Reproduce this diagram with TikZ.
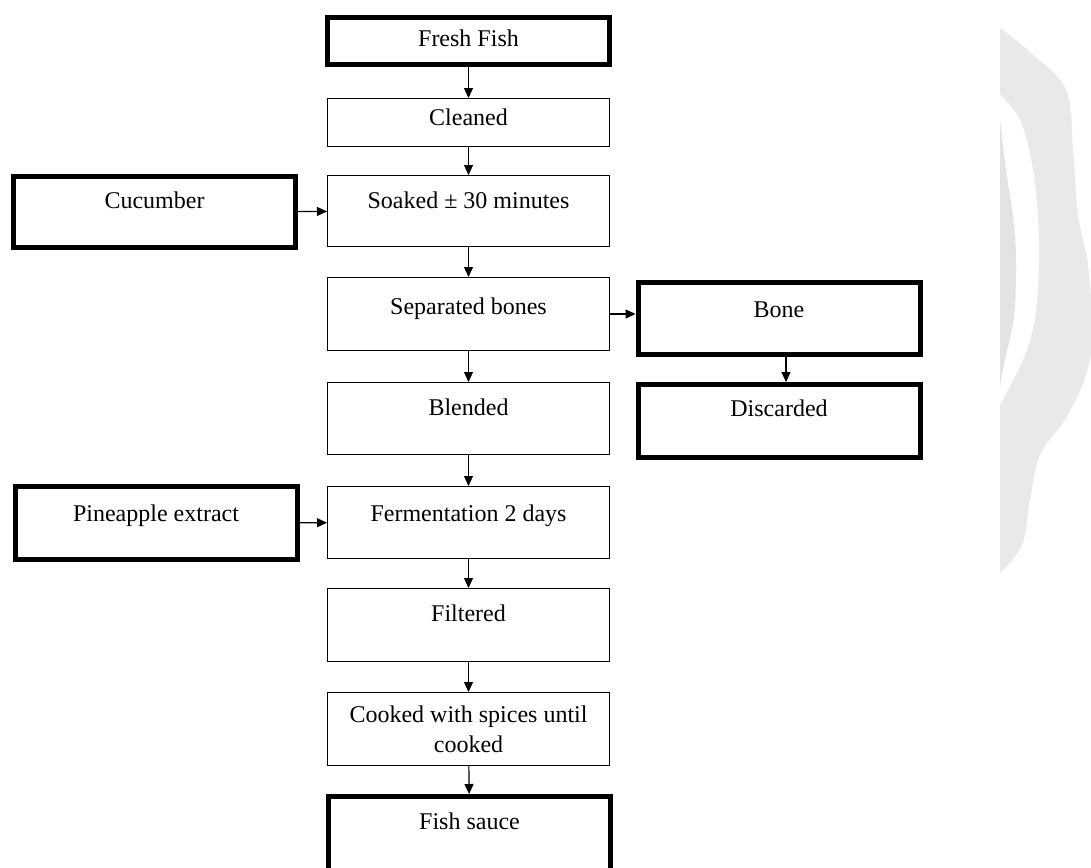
\documentclass[tikz,border=0pt]{standalone}
\usepackage{fontspec}
\setmainfont{Liberation Serif}
\usetikzlibrary{arrows.meta}

\begin{document}
\begin{tikzpicture}[-{Triangle[length=10pt, width=9pt]}, x=1pt, y=-1pt, line width=1.2pt,
            font=\fontsize{24}{30}\selectfont,
            proc/.style ={draw, black, line width=1pt, minimum width=282pt, inner ysep=0pt,
            anchor=north, align=center},
            ends/.style ={proc, line width=5pt},
            wmark/.style ={gray!17}]

            \useasboundingbox (0, 0) rectangle (1091, 867);

            %marca de agua a la derecha
            \fill[wmark] plot[smooth, tension=0.6] coordinates {(1000, 28) (1030, 52) (1066, 90) (1073, 150)
                (1078, 215) (1088, 265) (1092, 333) (1086, 375) (1066, 418) (1040, 455) (1030, 500)
                (1022, 545) (1000, 573)} -- cycle;
            \fill[white] plot[smooth, tension=0.6] coordinates {(1000, 95) (1020, 120) (1033, 170) (1039, 240)
                (1036, 310) (1025, 355) (1000, 405)} -- cycle;
            \fill[gray!22] plot[smooth, tension=0.6] coordinates {(1000, 120) (1006, 170) (1014, 225)
                (1016, 267) (1014, 317) (1006, 355) (1000, 385)} -- cycle;

            %\node [estilo] (nombre) at (posicion) {};
            \node[ends, text height=28.5pt, text depth=18.5pt] (fresh) at (468.5, 15) {Fresh Fish};
            \node[proc, text height=26.5pt, text depth=21.5pt] (clean) at (468.5, 98) {Cleaned};
            \node[proc, text height=32.5pt, text depth=38.5pt] (soak) at (468.5, 175) {Soaked ± 30 minutes};
            \node[proc, text height=36.5pt, text depth=36.5pt] (separ) at (468.5, 277) {Separated bones};
            \node[proc, text height=32.5pt, text depth=39.5pt] (blend) at (468.5, 382) {Blended};
            \node[proc, text height=34.5pt, text depth=37.5pt] (ferment) at (468.5, 486) {Fermentation 2 days};
            \node[proc, text height=32.5pt, text depth=40.5pt] (filter) at (468.5, 588) {Filtered};
            \node[proc, minimum height=73pt] (cook) at (468.5, 692) {Cooked with spices until\\cooked};
            \node[ends, text height=32.5pt, text depth=47.5pt] (sauce) at (469.5, 794) {Fish sauce};

            \node[ends, text height=31.5pt, text depth=39.5pt] (cucumber) at (154.5, 174) {Cucumber};
            \node[ends, text height=34.5pt, text depth=38.5pt] (pineapple) at (156, 484) {Pineapple extract};
            \node[ends, text height=34.5pt, text depth=37.5pt] (bone) at (779, 280) {Bone};
            \node[ends, text height=31.5pt, text depth=41.5pt] (discard) at (779, 382) {Discarded};

            \path (fresh) edge (clean);
            \path (clean) edge (soak);
            \path (soak) edge (separ);
            \path (separ) edge (blend);
            \path (blend) edge (ferment);
            \path (ferment) edge (filter);
            \path (filter) edge (cook);
            \path (cook) edge (sauce);

            \path (cucumber) edge (soak);
            \path (pineapple) edge (ferment);
            \path (separ.east) edge (separ.east -| bone.west);
            \path ([xshift=7pt]bone.south) edge ([xshift=7pt]bone.south |- discard.north);
        \end{tikzpicture}
\end{document}
